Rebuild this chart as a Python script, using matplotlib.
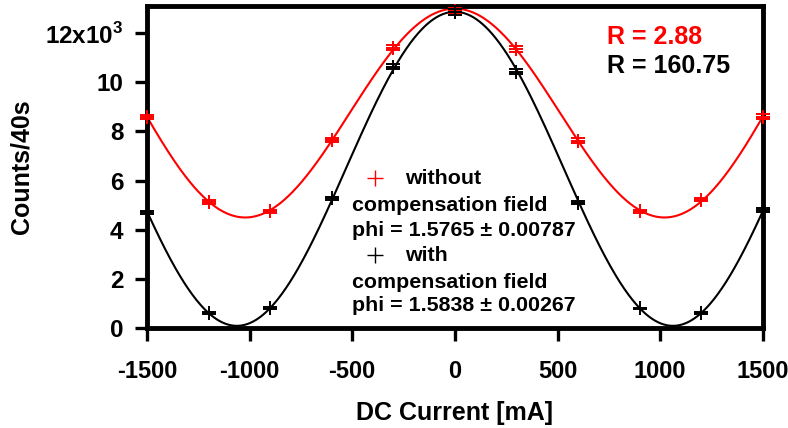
import numpy as np
import matplotlib
matplotlib.use("Agg")
import matplotlib.pyplot as plt

plt.rcParams['font.family'] = ['Liberation Sans', 'DejaVu Sans']
plt.rcParams['font.weight'] = 'bold'
plt.rcParams['mathtext.fontset'] = 'custom'
plt.rcParams['mathtext.rm'] = 'Liberation Sans:bold'
plt.rcParams['mathtext.bf'] = 'Liberation Sans:bold'

# DC current settings (mA)
current = [-1500, -1200, -900, -600, -300, 0, 300, 600, 900, 1200, 1500]

# Counts per 40 s, in units of 1000
counts_without = [8.58, 5.13, 4.75, 7.65, 11.40, 12.90, 11.35, 7.62, 4.75, 5.22, 8.60]
counts_with = [4.70, 0.61, 0.81, 5.28, 10.62, 12.85, 10.42, 5.10, 0.80, 0.62, 4.80]

err_without = [0.09, 0.07, 0.07, 0.09, 0.11, 0.11, 0.11, 0.09, 0.07, 0.07, 0.09]
err_with = [0.07, 0.03, 0.03, 0.07, 0.10, 0.11, 0.10, 0.07, 0.03, 0.03, 0.07]

yticks = [0, 2, 4, 6, 8, 10, 12]
ytick_labels = ["0", "2", "4", "6", "8", "10", r"12x10$^{\mathbf{3}}$"]
xticks = [-1500, -1000, -500, 0, 500, 1000, 1500]

ratio_without = "R = 2.88"
ratio_with = "R = 160.75"
phi_without = "phi = 1.5765 ± 0.00787"
phi_with = "phi = 1.5838 ± 0.00267"


def fit_curve(x, y, xs):
    """Least-squares fit of B + A*cos(2*w*x) + C*x^2, grid over w."""
    x = np.asarray(x, float) / 1000.0
    y = np.asarray(y, float)
    best = None
    for w in np.linspace(1.2, 1.8, 601):
        M = np.column_stack([np.ones_like(x), np.cos(2 * w * x), x ** 2])
        coef, *_ = np.linalg.lstsq(M, y, rcond=None)
        r = np.sum((M @ coef - y) ** 2)
        if best is None or r < best[0]:
            best = (r, w, coef)
    _, w, coef = best
    xx = xs / 1000.0
    return coef[0] + coef[1] * np.cos(2 * w * xx) + coef[2] * xx ** 2


fig = plt.figure(figsize=(7.88, 4.28), dpi=100)
ax = fig.add_axes([0.1865, 0.2336, 0.968 - 0.1865, 0.986 - 0.2336])

xs = np.linspace(-1500, 1500, 600)
ax.plot(xs, fit_curve(current, counts_without, xs), color='#ff0000', lw=1.5, zorder=2)
ax.plot(xs, fit_curve(current, counts_with, xs), color='black', lw=1.5, zorder=2)

ax.errorbar(current, counts_without, yerr=err_without, fmt='+', color='#ff0000',
            ms=10, mew=1.4, elinewidth=1.0, capsize=5, capthick=1.4, zorder=3,
            clip_on=False)
ax.errorbar(current, counts_with, yerr=err_with, fmt='+', color='black',
            ms=10, mew=1.4, elinewidth=1.0, capsize=5, capthick=1.4, zorder=3,
            clip_on=False)

ax.set_xlim(-1500, 1500)
ax.set_ylim(0, 13.1)
ax.set_xticks(xticks)
ax.set_xticklabels([str(v) for v in xticks])
ax.set_yticks(yticks)
ax.set_yticklabels(ytick_labels)

for s in ax.spines.values():
    s.set_linewidth(3.5)
ax.tick_params(direction='out', length=9, width=2.4)
ax.tick_params(axis='x', pad=14, labelsize=17)
ax.tick_params(axis='y', pad=8, labelsize=17.5)
for lbl in ax.get_xticklabels() + ax.get_yticklabels():
    lbl.set_fontweight('bold')

ax.set_xlabel("DC Current [mA]", fontsize=18, fontweight='bold', labelpad=13)
ax.set_ylabel("Counts/40s", fontsize=18, fontweight='bold', labelpad=8)

# Legend block and ratio labels, positioned in axes fractions
def fx(px):
    return (px - 147) / (763 - 147)


def fy(py):
    return (328 - py) / (328 - 6)


ax.text(fx(607), fy(37), ratio_without, transform=ax.transAxes, color='#ff0000',
        fontsize=18, fontweight='bold', va='center', ha='left')
ax.text(fx(607), fy(66), ratio_with, transform=ax.transAxes, color='black',
        fontsize=18, fontweight='bold', va='center', ha='left')

legend_fs = 15.4
ax.plot([fx(375)], [fy(178)], '+', color='#ff0000', ms=12, mew=1.0,
        transform=ax.transAxes, clip_on=False)
ax.text(fx(405), fy(178), "without", transform=ax.transAxes, fontsize=legend_fs,
        fontweight='bold', va='center', ha='left')
ax.text(fx(352), fy(205), "compensation field", transform=ax.transAxes,
        fontsize=legend_fs, fontweight='bold', va='center', ha='left')
ax.text(fx(352), fy(230), phi_without, transform=ax.transAxes,
        fontsize=legend_fs, fontweight='bold', va='center', ha='left')
ax.plot([fx(375)], [fy(255)], '+', color='black', ms=12, mew=1.0,
        transform=ax.transAxes, clip_on=False)
ax.text(fx(405), fy(255), "with", transform=ax.transAxes, fontsize=legend_fs,
        fontweight='bold', va='center', ha='left')
ax.text(fx(352), fy(282), "compensation field", transform=ax.transAxes,
        fontsize=legend_fs, fontweight='bold', va='center', ha='left')
ax.text(fx(352), fy(305), phi_with, transform=ax.transAxes,
        fontsize=legend_fs, fontweight='bold', va='center', ha='left')

fig.savefig("out.png", dpi=100)
